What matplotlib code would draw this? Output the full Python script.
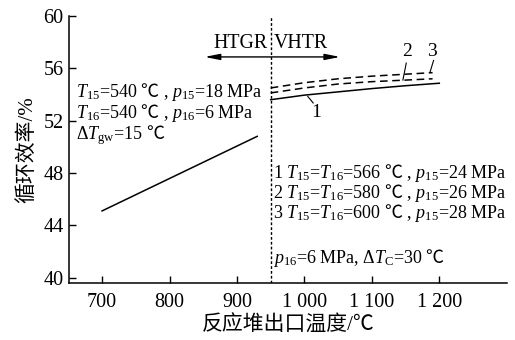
import matplotlib
matplotlib.use("Agg")
import matplotlib.pyplot as plt
from matplotlib.patches import FancyArrowPatch

plt.rcParams['font.family'] = ['Liberation Serif', 'Noto Sans CJK SC']
plt.rcParams['mathtext.fontset'] = 'custom'
plt.rcParams['mathtext.rm'] = 'Liberation Serif'
plt.rcParams['mathtext.it'] = 'Liberation Serif:italic'
plt.rcParams['mathtext.bf'] = 'Liberation Serif:bold'
plt.rcParams['mathtext.sf'] = 'Noto Sans CJK SC'

# Data
htgr_x = [700, 930]
htgr_y = [45.1, 50.8]
c1_x = [950, 1000, 1050, 1100, 1150, 1200]
c1_y = [53.6, 53.95, 54.2, 54.45, 54.67, 54.86]
c2_x = [950, 1000, 1050, 1100, 1150, 1190]
c2_y = [54.12, 54.5, 54.8, 54.98, 55.1, 55.2]
c3_x = [950, 1000, 1050, 1100, 1150, 1190]
c3_y = [54.5, 54.9, 55.2, 55.4, 55.55, 55.67]
boundary_x = 950
xticks = [700, 800, 900, 1000, 1100, 1200]
xticklabels = ['700', '800', '900', '1 000', '1 100', '1 200']
yticks = [40, 44, 48, 52, 56, 60]

C = r'$\mathsf{℃}$'

fig = plt.figure(figsize=(5.15, 3.4), dpi=100)
ax = fig.add_axes([0.134, 0.168, 0.850, 0.785])

ax.plot(htgr_x, htgr_y, color='black', lw=1.1)
ax.plot(c1_x, c1_y, color='black', lw=1.1)
ax.plot(c2_x, c2_y, color='black', lw=1.1, dashes=(5, 3))
ax.plot(c3_x, c3_y, color='black', lw=1.1, dashes=(5, 3))
ax.axvline(boundary_x, color='black', lw=1.0, dashes=(2, 1.5))

ax.set_xlim(651, 1300)
ax.set_ylim(39.6, 60)
ax.set_xticks(xticks)
ax.set_xticklabels(xticklabels)
ax.set_yticks(yticks)
for s in ['top', 'right']:
    ax.spines[s].set_visible(False)
for s in ['left', 'bottom']:
    ax.spines[s].set_linewidth(1.1)
ax.tick_params(direction='in', length=5, width=1.0, labelsize=14.5)
ax.tick_params(axis='x', pad=7)
ax.tick_params(axis='y', pad=4)

ax.set_xlabel('反应堆出口温度/℃', fontsize=15, labelpad=3)
ax.set_ylabel('循环效率/%', fontsize=15, labelpad=4)

# Arrow
arr = FancyArrowPatch((848, 56.87), (1057, 56.87), arrowstyle='<|-|>,head_length=0.9,head_width=0.18',
                      color='black', lw=1.0, mutation_scale=10)
ax.add_patch(arr)
ax.text(946, 57.2, 'HTGR', ha='right', va='bottom', fontsize=14.3)
ax.text(954, 57.2, 'VHTR', ha='left', va='bottom', fontsize=14.3)

# Left annotation
fs = 13
ax.text(662, 53.82, r'$T_{15}$=540 ' + C + r' , $p_{15}$=18 MPa', fontsize=fs, va='baseline')
ax.text(662, 52.21, r'$T_{16}$=540 ' + C + r' , $p_{16}$=6 MPa', fontsize=fs, va='baseline')
ax.text(662, 50.6, r'$\Delta T_{\rm gw}$=15 ' + C, fontsize=fs, va='baseline')

# Right annotation
ax.text(953, 47.63, r'1 $T_{15}$=$T_{16}$=566 ' + C + r' , $p_{15}$=24 MPa', fontsize=fs, va='baseline')
ax.text(953, 46.11, r'2 $T_{15}$=$T_{16}$=580 ' + C + r' , $p_{15}$=26 MPa', fontsize=fs, va='baseline')
ax.text(953, 44.58, r'3 $T_{15}$=$T_{16}$=600 ' + C + r' , $p_{15}$=28 MPa', fontsize=fs, va='baseline')
ax.text(953, 41.15, r'$p_{16}$=6 MPa, $\Delta T_{\rm C}$=30 ' + C, fontsize=fs, va='baseline')

# Curve labels with leaders
ax.plot([1005, 1013], [53.85, 53.35], color='black', lw=0.8)
ax.text(1018, 52.6, '1', fontsize=14, ha='center', va='center')
ax.plot([1151, 1146], [56.4, 55.1], color='black', lw=0.8)
ax.text(1152, 57.3, '2', fontsize=14, ha='center', va='center')
ax.plot([1191.5, 1186.5], [56.6, 55.75], color='black', lw=0.8)
ax.text(1189, 57.3, '3', fontsize=14, ha='center', va='center')

fig.savefig('out.png', dpi=100)
